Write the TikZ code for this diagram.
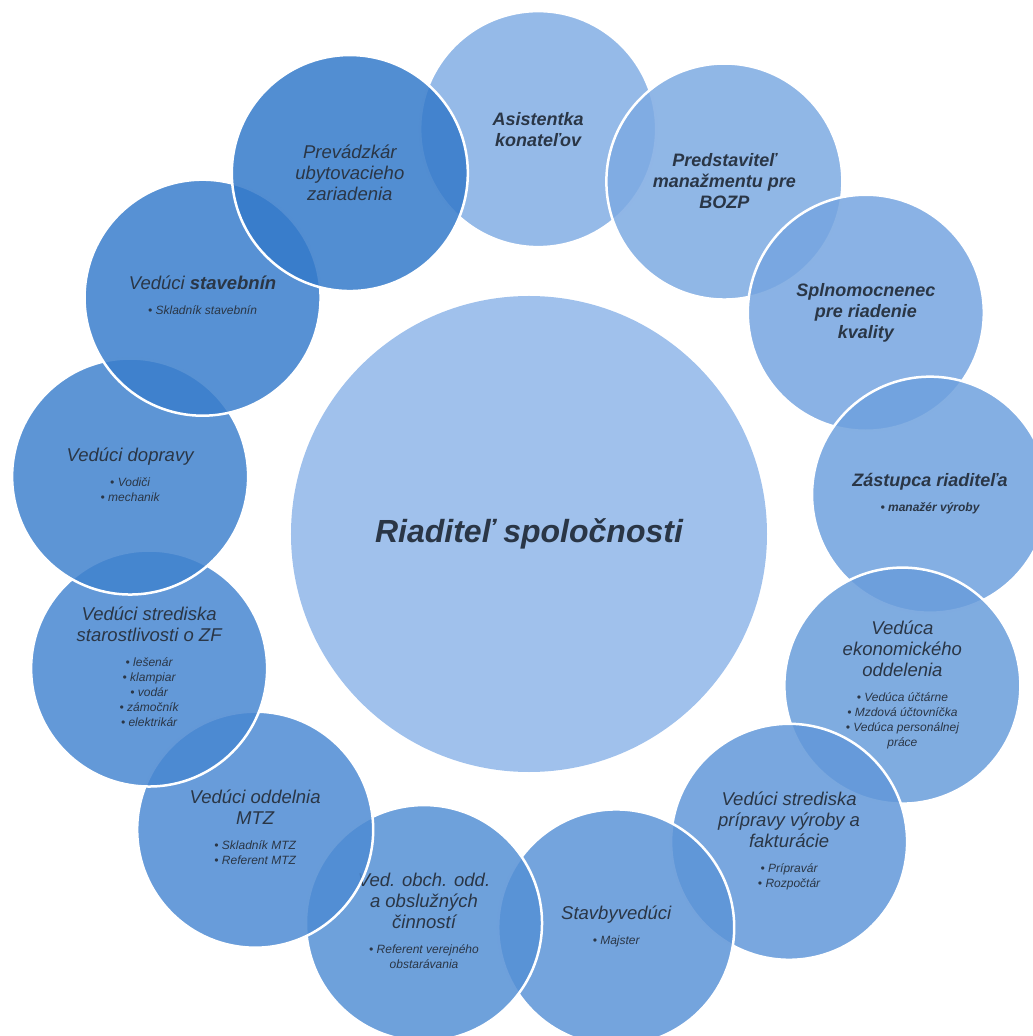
\documentclass[tikz,border=0pt]{standalone}
\usepackage{fontspec}
\setmainfont{Liberation Sans}
\definecolor{lt}{RGB}{131,174,228}
\definecolor{dk}{RGB}{52,122,202}
\definecolor{ctr}{RGB}{160,193,236}
\definecolor{txt}{RGB}{42,54,70}
\newcommand\ttlfont{\fontsize{18.5}{21}\selectfont\itshape}
\newcommand\bulfont{\fontsize{12}{15}\selectfont\itshape}
\newcommand\blist[1]{{\bulfont\begin{tabular}[t]{@{}c@{}}#1\end{tabular}}}
\begin{document}
\begin{tikzpicture}[x=1pt,y=1pt,
  pc/.style={circle, minimum size=236pt, inner sep=0pt, draw=white, line width=2.5pt,
    fill opacity=0.85, text opacity=1, align=center, text=txt, font=\ttlfont},
  bt/.style={font=\fontsize{18}{21}\selectfont\itshape\bfseries},
  cc/.style={circle, minimum size=476pt, inner sep=0pt, fill=ctr, text=txt,
    font=\fontsize{32}{38}\selectfont\bfseries\itshape}]
\useasboundingbox (-529,-502) rectangle (504,534);
\clip (-529,-502) rectangle (504,534);
\node[cc] (ceo) at (0,0) {Riaditeľ spoločnosti};
\node[pc, bt, fill=dk!0!lt] (n0) at (88.7:405) {Asistentka\\konateľov};
\node[pc, bt, fill=dk!8!lt] (n1) at (61.0:403) {Predstaviteľ\\manažmentu pre\\BOZP};
\node[pc, bt, fill=dk!17!lt] (n2) at (33.3:403) {Splnomocnenec\\pre riadenie\\kvality};
\node[pc, bt, fill=dk!25!lt] (n3) at (5.6:403) {Zástupca riaditeľa\\[4pt]\blist{\bfseries • manažér výroby}};
\node[pc, fill=dk!33!lt] (n4) at (-22.1:403) {Vedúca\\ekonomického\\oddelenia\\[4pt]\blist{• Vedúca účtárne\\• Mzdová účtovníčka\\• Vedúca personálnej\\práce}};
\node[pc, fill=dk!42!lt] (n5) at (-49.8:403) {Vedúci strediska\\prípravy výroby a\\fakturácie\\[4pt]\blist{• Prípravár\\• Rozpočtár}};
\node[pc, fill=dk!50!lt] (n6) at (-77.5:403) {Stavbyvedúci\\[4pt]\blist{• Majster}};
\node[pc, fill=dk!58!lt] (n7) at (-105.1:403) {Ved. obch. odd.\\a obslužných\\činností\\[4pt]\blist{• Referent verejného\\obstarávania}};
\node[pc, fill=dk!67!lt] (n8) at (-132.8:403) {Vedúci oddelnia\\MTZ\\[4pt]\blist{• Skladník MTZ\\• Referent MTZ}};
\node[pc, fill=dk!75!lt] (n9) at (-160.5:403) {Vedúci strediska\\starostlivosti o ZF\\[4pt]\blist{• lešenár\\• klampiar\\• vodár\\• zámočník\\• elektrikár}};
\node[pc, fill=dk!83!lt] (n10) at (171.8:403) {Vedúci dopravy\\[4pt]\blist{• Vodiči\\• mechanik}};
\node[pc, fill=dk!92!lt] (n11) at (144.1:403) {Vedúci \textbf{stavebnín}\\[4pt]\blist{• Skladník stavebnín}};
\node[pc, fill=dk!100!lt] (n12) at (116.4:403) {Prevádzkár\\ubytovacieho\\zariadenia};
\end{tikzpicture}
\end{document}
